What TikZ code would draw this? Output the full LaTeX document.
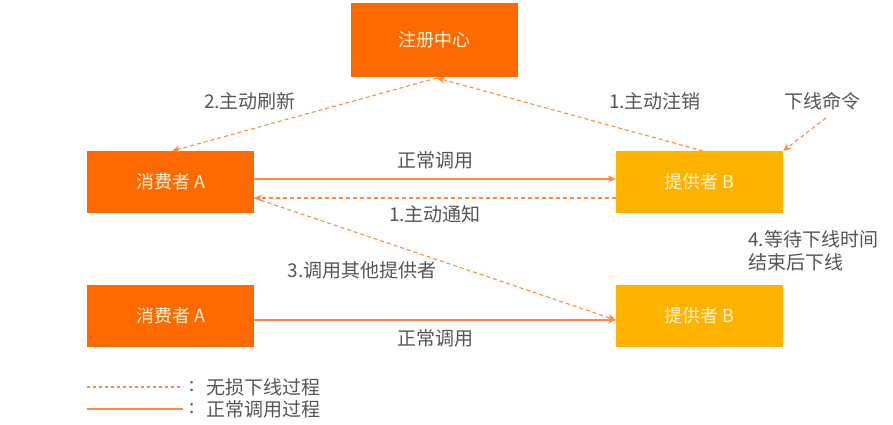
\documentclass[tikz,border=0pt]{standalone}
\usepackage{fontspec}
\newfontfamily\cjk{Noto Sans CJK SC}
\usetikzlibrary{arrows.meta}
\definecolor{regorange}{HTML}{FF6A00}
\definecolor{provamber}{HTML}{FFB300}
\definecolor{lineorange}{HTML}{FF8A3D}
\definecolor{txtgray}{HTML}{555555}
\definecolor{boxtxt}{HTML}{FFF4DC}
\tikzset{
  x=1pt,y=-1pt,
  regbox/.style={fill=regorange,draw=none,minimum width=167pt,minimum height=74pt,inner sep=0pt,text=boxtxt,font=\cjk\fontsize{18}{20}\selectfont},
  conbox/.style={fill=regorange,draw=none,minimum width=167pt,minimum height=62pt,inner sep=0pt,text=boxtxt,font=\cjk\fontsize{18}{20}\selectfont},
  provbox/.style={fill=provamber,draw=none,minimum width=167pt,minimum height=62pt,inner sep=0pt,text=boxtxt,font=\cjk\fontsize{18}{20}\selectfont},
  lbl/.style={text=txtgray,inner sep=0pt,font=\cjk\fontsize{19}{23}\selectfont},
  normal/.style={draw=lineorange,line width=1.2pt,-{Stealth[length=8pt,width=7pt]}},
  lossless/.style={draw=lineorange,line width=1.1pt,dash pattern=on 4pt off 3pt,-{Stealth[length=8pt,width=7pt]}},
}
\begin{document}
\begin{tikzpicture}
\useasboundingbox (0,0) rectangle (893,425);
\node[regbox] (reg) at (434.5,40) {注册中心};
\node[conbox] (cA) at (170.5,182) {消费者 A};
\node[provbox] (pB) at (699.5,182) {提供者 B};
\node[conbox] (cA2) at (170.5,315.5) {消费者 A};
\node[provbox] (pB2) at (699.5,315.5) {提供者 B};

\coordinate (regb) at (437,78);
\coordinate (cAtop) at (172,151);
\coordinate (pBtop) at (703,151);

\draw[lossless] (regb) -- (cAtop);
\draw[lossless] (pBtop) -- (regb);
\node[lbl] (l2) at (250,101) {2.主动刷新};
\node[lbl] (l1) at (655,101) {1.主动注销};

\node[lbl] (cmd) at (822,101) {下线命令};
\coordinate (cmdb) at (826,118);
\draw[lossless] (cmdb) -- (pB.north east);

\draw[normal] ([yshift=3pt]cA.east) -- ([yshift=3pt]pB.west);
\node[lbl] (n1) at (435,160) {正常调用};
\draw[lossless] ([yshift=-16pt]pB.west) -- ([yshift=-16pt]cA.east);
\node[lbl] (l1b) at (435,214) {1.主动通知};

\draw[lossless] ([yshift=-16pt]cA.east) -- ([yshift=-4.5pt]pB2.west);
\node[lbl] (l3) at (362,270) {3.调用其他提供者};

\draw[normal] ([yshift=-4.5pt]cA2.east) -- ([yshift=-4.5pt]pB2.west);
\node[lbl] (n2) at (435,338) {正常调用};

\node[lbl,anchor=west,align=left] (l4) at (748,251) {4.等待下线时间\\结束后下线};

% legend
\coordinate (lg1a) at (87,387);
\coordinate (lg1b) at (183,387);
\coordinate (lg2a) at (87,409);
\coordinate (lg2b) at (183,409);
\draw[draw=lineorange,line width=1.1pt,dash pattern=on 3pt off 3pt] (lg1a) -- (lg1b);
\draw[draw=lineorange,line width=1.2pt] (lg2a) -- (lg2b);
\node[lbl] (c1) at (192,387) {:};
\node[lbl] (c2) at (192,409) {:};
\node[lbl,anchor=west] (lgt1) at (206,387) {无损下线过程};
\node[lbl,anchor=west] (lgt2) at (206,409) {正常调用过程};
\end{tikzpicture}
\end{document}
